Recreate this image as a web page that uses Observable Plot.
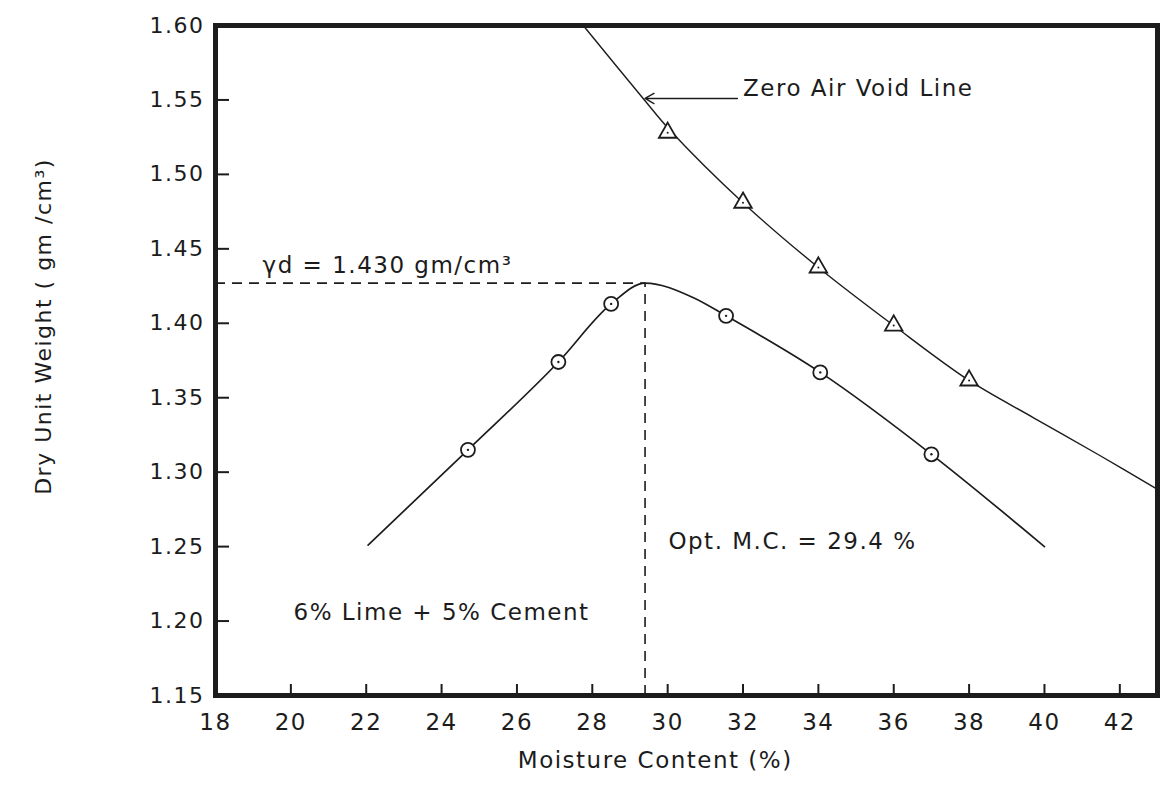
<!DOCTYPE html>
<html>
<head>
<meta charset="utf-8">
<script src="https://cdn.jsdelivr.net/npm/d3@7"></script>
<script src="https://cdn.jsdelivr.net/npm/@observablehq/plot@0.6"></script>
<style>
  body { margin: 0; background: #fff; }
  #chart svg text { letter-spacing: 1.5px; }
</style>
</head>
<body>
<div id="chart"></div>
<script>
// ---- tick labels ----
const xTicks = [18, 20, 22, 24, 26, 28, 30, 32, 34, 36, 38, 40, 42];
const yTicks = [1.15, 1.20, 1.25, 1.30, 1.35, 1.40, 1.45, 1.50, 1.55, 1.60];

// ---- compaction test points (circles) ----
const testMoisture = [24.7, 27.1, 28.5, 31.55, 34.05, 37.0];
const testDryWeight = [1.315, 1.374, 1.413, 1.405, 1.367, 1.312];

// ---- compaction curve ----
const curveMoisture = [22.05, 24.7, 27.1, 28.5, 29.4, 30.7, 31.55, 34.05, 37.0, 40.0];
const curveDryWeight = [1.251, 1.315, 1.374, 1.413, 1.427, 1.417, 1.405, 1.367, 1.312, 1.250];

// ---- zero air void points (triangles) ----
const zavMoisture = [30, 32, 34, 36, 38];
const zavDryWeight = [1.528, 1.481, 1.4375, 1.3985, 1.3616];

// ---- zero air void line ----
const zavLineMoisture = [27.76, 29.35, 30.05, 32, 34, 36, 38, 39.7, 41.47, 43];
const zavLineDryWeight = [1.600, 1.551, 1.530, 1.481, 1.4375, 1.3985, 1.3616, 1.3367, 1.3112, 1.2884];

// ---- optimum ----
const optMoisture = 29.4;
const optDryWeight = 1.427;

// ---- annotations ----
const noteTexts = ["Zero Air Void Line", "\u03B3d = 1.430 gm/cm\u00B3", "Opt. M.C. = 29.4 %", "6% Lime + 5% Cement"];
const noteX = [32.0, 19.25, 30.02, 20.07];
const noteY = [1.5575, 1.439, 1.2535, 1.2058];
const arrowFrom = [31.85, 1.551];
const arrowTo = [29.4, 1.551];

const xLabel = "Moisture Content (%)";
const yLabel = "Dry Unit Weight ( gm /cm\u00B3)";

const ink = "#1c1c1c";
const zip = (xs, ys) => xs.map((x, i) => ({x, y: ys[i]}));

const tests = zip(testMoisture, testDryWeight);
const curve = zip(curveMoisture, curveDryWeight);
const zav = zip(zavMoisture, zavDryWeight);
const zavLine = zip(zavLineMoisture, zavLineDryWeight);
const notes = noteTexts.map((t, i) => ({t, x: noteX[i], y: noteY[i]}));

const chart = Plot.plot({
  width: 1165,
  height: 786,
  marginLeft: 215,
  marginRight: 8,
  marginTop: 25,
  marginBottom: 91,
  style: {fontFamily: "DejaVu Sans", background: "#fff", color: ink},
  x: {domain: [18, 43]},
  y: {domain: [1.15, 1.60]},
  marks: [
    // inner ticks
    Plot.axisX(xTicks, {tickSize: -11, strokeWidth: 2, fill: "none", stroke: ink}),
    Plot.axisY(yTicks, {tickSize: -14, strokeWidth: 2, fill: "none", stroke: ink}),
    // tick labels
    Plot.axisX(xTicks, {tickSize: 0, tickPadding: 18, fontSize: 23, label: null, fill: ink, tickFormat: d => String(d)}),
    Plot.axisY(yTicks, {tickSize: 0, tickPadding: 11, fontSize: 22, label: null, fill: ink, tickFormat: d => d.toFixed(2)}),
    // dashed optimum guides
    Plot.ruleY([optDryWeight], {x1: 18, x2: optMoisture, stroke: ink, strokeWidth: 1.6, strokeDasharray: "10,7"}),
    Plot.ruleX([optMoisture], {y1: 1.15, y2: optDryWeight, stroke: ink, strokeWidth: 1.6, strokeDasharray: "10,7"}),
    // curves
    Plot.line(zavLine, {x: "x", y: "y", curve: "catmull-rom", stroke: ink, strokeWidth: 1.4}),
    Plot.line(curve, {x: "x", y: "y", curve: "monotone-x", stroke: ink, strokeWidth: 1.7}),
    // markers
    Plot.dot(tests, {x: "x", y: "y", r: 7, fill: "white", stroke: ink, strokeWidth: 1.8}),
    Plot.dot(tests, {x: "x", y: "y", r: 1.2, fill: ink}),
    Plot.dot(zav, {x: "x", y: "y", symbol: "triangle", r: 6.5, fill: "white", stroke: ink, strokeWidth: 1.8}),
    Plot.dot(zav, {x: "x", y: "y", r: 1, fill: ink}),
    // arrow
    Plot.arrow([{x1: arrowFrom[0], y1: arrowFrom[1], x2: arrowTo[0], y2: arrowTo[1]}],
      {x1: "x1", y1: "y1", x2: "x2", y2: "y2", stroke: ink, strokeWidth: 1.4, headLength: 11, bend: 0}),
    // annotations
    Plot.text(notes, {x: "x", y: "y", text: "t", textAnchor: "start", fontSize: 23, fill: ink}),
    // axis labels
    Plot.text([xLabel], {x: [29.67], frameAnchor: "bottom", dy: 72, fontSize: 23, fill: ink}),
    Plot.text([yLabel], {frameAnchor: "left", textAnchor: "middle", dx: -172, dy: -34, rotate: -90, fontSize: 22, fill: ink}),
    // frame
    Plot.frame({stroke: ink, strokeWidth: 5})
  ]
});
document.getElementById("chart").appendChild(chart);
</script>
</body>
</html>
